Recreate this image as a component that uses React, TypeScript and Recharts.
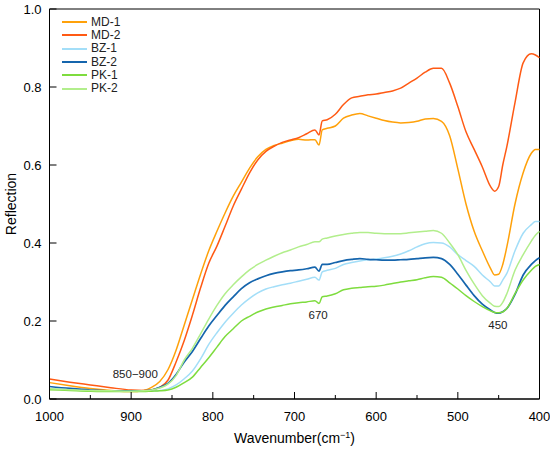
import React from 'react';
import { LineChart, Line, XAxis, YAxis, Legend, ReferenceArea, ReferenceDot } from 'recharts';

const wavenumbers = [1000, 975, 950, 925, 900, 885, 875, 865, 855, 845, 835, 825, 815, 805, 795, 785, 775, 765, 755, 745, 735, 725, 715, 705, 695, 685, 675, 670, 666, 660, 650, 640, 630, 620, 610, 600, 590, 580, 570, 560, 550, 540, 530, 520, 510, 500, 490, 480, 470, 460, 455, 450, 445, 440, 430, 420, 410, 405, 400];

const md1 = [0.042, 0.034, 0.027, 0.022, 0.019, 0.022, 0.03, 0.045, 0.075, 0.125, 0.19, 0.255, 0.32, 0.38, 0.43, 0.477, 0.52, 0.556, 0.592, 0.621, 0.64, 0.65, 0.656, 0.662, 0.666, 0.664, 0.665, 0.651, 0.69, 0.694, 0.7, 0.72, 0.728, 0.732, 0.726, 0.72, 0.714, 0.71, 0.708, 0.709, 0.712, 0.718, 0.719, 0.712, 0.675, 0.59, 0.5, 0.43, 0.38, 0.335, 0.318, 0.32, 0.345, 0.39, 0.5, 0.58, 0.63, 0.64, 0.64];
const md2 = [0.051, 0.043, 0.036, 0.029, 0.023, 0.022, 0.024, 0.03, 0.048, 0.095, 0.15, 0.215, 0.285, 0.348, 0.392, 0.443, 0.495, 0.538, 0.58, 0.613, 0.635, 0.648, 0.658, 0.664, 0.67, 0.68, 0.69, 0.677, 0.713, 0.716, 0.73, 0.755, 0.772, 0.776, 0.78, 0.782, 0.786, 0.79, 0.797, 0.81, 0.823, 0.838, 0.848, 0.848, 0.81, 0.75, 0.685, 0.64, 0.595, 0.545, 0.533, 0.545, 0.6, 0.647, 0.76, 0.862, 0.885, 0.882, 0.875];
const bz1 = [0.026, 0.024, 0.022, 0.021, 0.02, 0.02, 0.021, 0.022, 0.026, 0.036, 0.052, 0.072, 0.103, 0.14, 0.17, 0.197, 0.22, 0.241, 0.258, 0.272, 0.282, 0.288, 0.293, 0.297, 0.302, 0.307, 0.312, 0.305, 0.326, 0.33, 0.335, 0.345, 0.35, 0.354, 0.357, 0.359, 0.362, 0.366, 0.372, 0.38, 0.39, 0.398, 0.401, 0.4, 0.39, 0.37, 0.355, 0.34, 0.318, 0.3, 0.29, 0.29, 0.305, 0.322, 0.38, 0.425, 0.447, 0.455, 0.455];
const bz2 = [0.032, 0.027, 0.023, 0.021, 0.021, 0.021, 0.023, 0.03, 0.04, 0.063, 0.095, 0.122, 0.155, 0.187, 0.214, 0.24, 0.262, 0.283, 0.298, 0.308, 0.316, 0.322, 0.326, 0.329, 0.331, 0.334, 0.338, 0.328, 0.345, 0.345, 0.35, 0.355, 0.358, 0.36, 0.358, 0.357, 0.356, 0.356, 0.357, 0.358, 0.36, 0.362, 0.363, 0.36, 0.345, 0.32, 0.292, 0.265, 0.243, 0.228, 0.222, 0.22, 0.224, 0.232, 0.268, 0.318, 0.345, 0.355, 0.362];
const pk1 = [0.024, 0.022, 0.02, 0.019, 0.019, 0.019, 0.02, 0.021, 0.023, 0.03, 0.042, 0.056, 0.081, 0.106, 0.133, 0.16, 0.18, 0.2, 0.212, 0.223, 0.231, 0.236, 0.24, 0.244, 0.247, 0.249, 0.252, 0.245, 0.262, 0.264, 0.27, 0.28, 0.284, 0.286, 0.288, 0.289, 0.292, 0.296, 0.3, 0.303, 0.306, 0.311, 0.314, 0.312, 0.298, 0.282, 0.265, 0.25, 0.237, 0.226, 0.222, 0.221, 0.223, 0.232, 0.27, 0.305, 0.33, 0.34, 0.345];
const pk2 = [0.026, 0.024, 0.022, 0.021, 0.02, 0.021, 0.023, 0.028, 0.038, 0.06, 0.1, 0.13, 0.167, 0.205, 0.24, 0.27, 0.293, 0.313, 0.331, 0.345, 0.356, 0.366, 0.375, 0.382, 0.39, 0.396, 0.403, 0.403, 0.41, 0.413, 0.418, 0.422, 0.425, 0.427, 0.427, 0.425, 0.424, 0.424, 0.424, 0.426, 0.428, 0.43, 0.432, 0.425, 0.4, 0.37, 0.33, 0.295, 0.265, 0.245, 0.238, 0.237, 0.248, 0.27, 0.33, 0.37, 0.405, 0.42, 0.43];

const legendOrder = ['MD-1', 'MD-2', 'BZ-1', 'BZ-2', 'PK-1', 'PK-2'];
const xTicks = [1000, 950, 900, 850, 800, 750, 700, 650, 600, 550, 500, 450, 400];
const yTicks = [0, 0.2, 0.4, 0.6, 0.8, 1.0];

const data = wavenumbers.map((w, i) => ({
  w,
  md1: md1[i],
  md2: md2[i],
  bz1: bz1[i],
  bz2: bz2[i],
  pk1: pk1[i],
  pk2: pk2[i],
}));

const font = '"Liberation Sans", Arial, sans-serif';

const XTick = (props: any) => {
  const { x, y, payload } = props;
  const major = payload.value % 100 === 0;
  return (
    <g>
      <line x1={x} x2={x} y1={y} y2={y - (major ? 7 : 4)} stroke="#000" />
      {major && (
        <text x={x} y={y + 22} textAnchor="middle" fontSize={13} fontFamily={font} fill="#000">
          {payload.value}
        </text>
      )}
    </g>
  );
};

const YTick = (props: any) => {
  const { x, y, payload } = props;
  return (
    <g>
      <line x1={x} x2={x + 7} y1={y} y2={y} stroke="#000" />
      <text x={x - 8} y={y + 4.5} textAnchor="end" fontSize={13} fontFamily={font} fill="#000">
        {payload.value.toFixed(1)}
      </text>
    </g>
  );
};

const renderLegend = (props: any) => {
  const items = [...props.payload].sort(
    (a: any, b: any) => legendOrder.indexOf(a.value) - legendOrder.indexOf(b.value)
  );
  return (
    <div style={{ fontFamily: font, fontSize: 12, color: '#222' }}>
      {items.map((p: any) => (
        <div key={p.value} style={{ display: 'flex', alignItems: 'center', height: 13.3 }}>
          <svg width={25} height={4}>
            <line x1={0} x2={25} y1={2} y2={2} stroke={p.color} strokeWidth={2} />
          </svg>
          <span style={{ marginLeft: 4, lineHeight: '13px' }}>{p.value}</span>
        </div>
      ))}
    </div>
  );
};

const App = () => {
  return (
    <div style={{ position: 'absolute', left: 0, top: 0 }}>
      <LineChart
        width={550}
        height={453}
        data={data}
        margin={{ top: 9, right: 10.5, left: 0, bottom: 0 }}
        style={{ fontFamily: font }}
      >
        <XAxis
          dataKey="w"
          type="number"
          domain={[400, 1000]}
          reversed
          ticks={xTicks}
          interval={0}
          height={54}
          tickSize={0}
          tickMargin={0}
          tickLine={false}
          tick={<XTick />}
          axisLine={{ stroke: '#000' }}
          label={{
            content: (p: any) => (
              <text x={p.viewBox.x + p.viewBox.width / 2} y={443} textAnchor="middle" fontSize={14} fontFamily={font} fill="#000">
                Wavenumber(cm<tspan dy={-5} fontSize={9}>−1</tspan><tspan dy={5}>)</tspan>
              </text>
            ),
          }}
        />
        <YAxis
          type="number"
          domain={[0, 1]}
          ticks={yTicks}
          interval={0}
          width={49.5}
          tickSize={0}
          tickMargin={0}
          tickLine={false}
          tick={<YTick />}
          axisLine={{ stroke: '#000' }}
          label={{
            content: (p: any) => {
              const cy = p.viewBox.y + p.viewBox.height / 2;
              return (
                <text x={16} y={cy} transform={`rotate(-90 16 ${cy})`} textAnchor="middle" fontSize={14} fontFamily={font} fill="#000">
                  Reflection
                </text>
              );
            },
          }}
        />
        <ReferenceArea x1={1000} x2={400} y1={0} y2={1} fill="none" stroke="#000" strokeWidth={1} />
        <Legend
          layout="vertical"
          align="center"
          verticalAlign="middle"
          content={renderLegend}
          wrapperStyle={{ left: 62, top: 15.5, width: 'auto', height: 'auto' }}
        />
        <Line dataKey="md1" name="MD-1" type="monotone" stroke="#FFA10A" strokeWidth={1.5} dot={false} isAnimationActive={false} />
        <Line dataKey="md2" name="MD-2" type="monotone" stroke="#FF5A14" strokeWidth={1.5} dot={false} isAnimationActive={false} />
        <Line dataKey="bz1" name="BZ-1" type="monotone" stroke="#A3DEF8" strokeWidth={1.5} dot={false} isAnimationActive={false} />
        <Line dataKey="bz2" name="BZ-2" type="monotone" stroke="#1565AD" strokeWidth={1.7} dot={false} isAnimationActive={false} />
        <Line dataKey="pk1" name="PK-1" type="monotone" stroke="#7EDC3E" strokeWidth={1.5} dot={false} isAnimationActive={false} />
        <Line dataKey="pk2" name="PK-2" type="monotone" stroke="#B2EE8C" strokeWidth={1.5} dot={false} isAnimationActive={false} />
        <ReferenceDot x={895} y={0.064} r={0} fill="none" stroke="none" label={{ value: '850−900', position: 'center', fontSize: 11.5, fill: '#222', fontFamily: font }} />
        <ReferenceDot x={671} y={0.215} r={0} fill="none" stroke="none" label={{ value: '670', position: 'center', fontSize: 11.5, fill: '#222', fontFamily: font }} />
        <ReferenceDot x={451} y={0.19} r={0} fill="none" stroke="none" label={{ value: '450', position: 'center', fontSize: 11.5, fill: '#222', fontFamily: font }} />
      </LineChart>
    </div>
  );
};

export default App;
